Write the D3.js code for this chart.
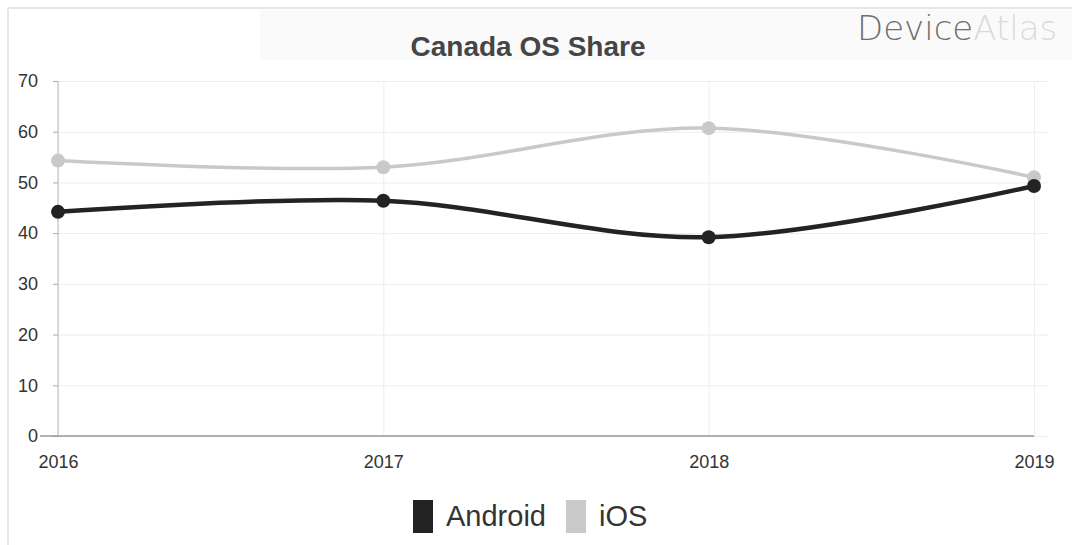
<!DOCTYPE html>
<html>
<head>
<meta charset="utf-8">
<script src="https://cdnjs.cloudflare.com/ajax/libs/d3/7.8.5/d3.min.js"></script>
<style>
  html, body { margin: 0; padding: 0; background: #fff; }
  #chart { width: 1072px; height: 545px; }
  text { font-family: "Liberation Sans", Arial, sans-serif; }
</style>
</head>
<body>
<div id="chart"></div>
<script>
// data
const years = ["2016", "2017", "2018", "2019"];
const androidShare = [44.2, 46.4, 39.2, 49.3];
const iosShare = [54.3, 53.0, 60.7, 51.0];
const yTicks = [0, 10, 20, 30, 40, 50, 60, 70];
const seriesNames = ["Android", "iOS"];
const seriesColors = ["#232323", "#c9c9c9"];

const W = 1072, H = 545;
const margin = {top: 81, right: 24, bottom: 109, left: 58};
const width = W - margin.left - margin.right;
const height = H - margin.top - margin.bottom;

const root = d3.select("#chart").append("svg")
    .attr("width", W)
    .attr("height", H);

// faint frame from the scan
root.append("rect")
    .attr("x", 260).attr("y", 10).attr("width", W - 260).attr("height", 50)
    .attr("fill", "#fafafa");
root.append("line")
    .attr("x1", 8).attr("x2", W).attr("y1", 8).attr("y2", 8)
    .attr("stroke", "#e6e6e6").attr("stroke-width", 2);
root.append("line")
    .attr("x1", 8).attr("x2", 8).attr("y1", 8).attr("y2", H)
    .attr("stroke", "#e6e6e6").attr("stroke-width", 2);

// title
root.append("text")
    .attr("x", 528)
    .attr("y", 56)
    .attr("text-anchor", "middle")
    .style("font-size", "28px")
    .style("font-weight", "bold")
    .style("fill", "#454545")
    .text("Canada OS Share");

// logo
const logo = root.append("text")
    .attr("x", 857)
    .attr("y", 40)
    .style("font-size", "34px")
    .style("font-family", "'DejaVu Sans', sans-serif")
    .style("font-weight", "300");
logo.append("tspan").style("fill", "#6e6e6e").text("Device");
logo.append("tspan").style("fill", "#dadada").text("Atlas");

const svg = root.append("g")
    .attr("transform", `translate(${margin.left},${margin.top})`);

const x = d3.scalePoint()
    .domain(years)
    .range([0, width - 14]);

const y = d3.scaleLinear()
    .domain([0, 70])
    .range([height, 0]);

// grid
svg.append("g")
    .attr("class", "grid")
    .call(d3.axisLeft(y).tickValues(yTicks).tickSize(-width).tickFormat(""))
    .call(g => g.select(".domain").remove())
    .call(g => g.selectAll("line").attr("stroke", "#ececec"));

svg.append("g")
    .attr("class", "grid")
    .call(d3.axisBottom(x).tickSize(height).tickFormat(""))
    .call(g => g.select(".domain").remove())
    .call(g => g.selectAll("line").attr("stroke", "#eeeeee"));

// y axis
svg.append("g")
    .call(d3.axisLeft(y).tickValues(yTicks).tickSize(5).tickPadding(15))
    .call(g => g.select(".domain").attr("stroke", "#bbb").attr("d", `M0,${height}V0`))
    .call(g => g.selectAll(".tick line").attr("stroke", "#aaa"))
    .call(g => g.selectAll(".tick text")
        .style("font-size", "18px")
        .style("fill", "#333"));

// x axis
svg.append("g")
    .attr("transform", `translate(0,${height})`)
    .call(d3.axisBottom(x).tickSize(0).tickPadding(19))
    .call(g => g.select(".domain").attr("stroke", "#999").attr("stroke-width", 1.5)
        .attr("d", `M-18,0H${width - 14}`))
    .call(g => g.selectAll(".tick text")
        .style("font-size", "18px")
        .style("fill", "#333"));

const line = d3.line()
    .x((d, i) => x(years[i]))
    .y(d => y(d))
    .curve(d3.curveCatmullRom.alpha(0.5));

const series = [iosShare, androidShare];
const seriesColor = [seriesColors[1], seriesColors[0]];
const seriesWidth = [3.5, 4.5];

series.forEach((vals, k) => {
    svg.append("path")
        .datum(vals)
        .attr("fill", "none")
        .attr("stroke", seriesColor[k])
        .attr("stroke-width", seriesWidth[k])
        .attr("d", line);

    svg.selectAll(null)
        .data(vals)
        .enter()
        .append("circle")
        .attr("cx", (d, i) => x(years[i]))
        .attr("cy", d => y(d))
        .attr("r", 7)
        .attr("fill", seriesColor[k]);
});

// legend
const legend = root.append("g")
    .attr("transform", "translate(413,500)");

let lx = 0;
seriesNames.forEach((name, i) => {
    const item = legend.append("g").attr("transform", `translate(${lx},0)`);
    item.append("rect")
        .attr("width", 20)
        .attr("height", 33)
        .attr("fill", seriesColors[i]);
    const t = item.append("text")
        .attr("x", 33)
        .attr("y", 26)
        .style("font-size", "29px")
        .style("fill", "#333")
        .text(name);
    lx += 33 + t.node().getComputedTextLength() + 20;
});
</script>
</body>
</html>
